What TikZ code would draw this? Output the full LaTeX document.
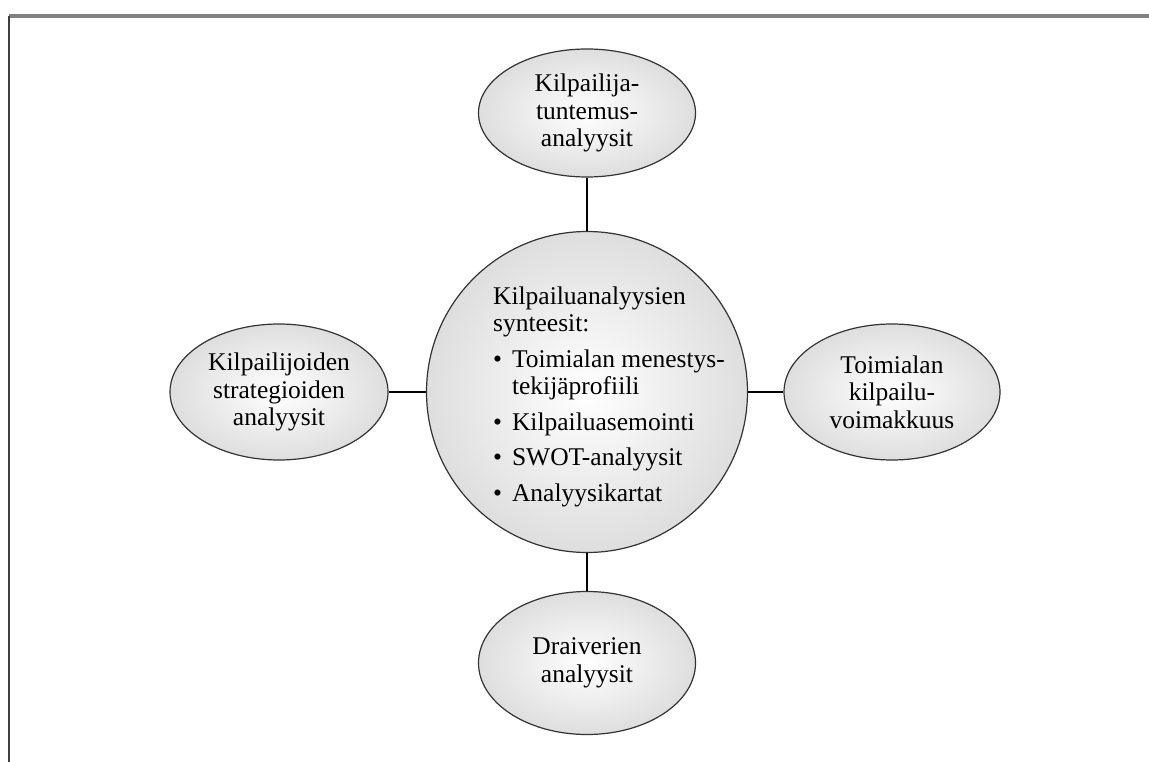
\documentclass[tikz,border=0pt]{standalone}
\usepackage{fontspec}
\setmainfont{Liberation Serif}
\usetikzlibrary{shapes.geometric}
\begin{document}
\begin{tikzpicture}[x=1pt,y=-1pt,
  bub/.style={ellipse, draw=black!80, line width=1.2pt, inner color=white, outer color=black!13,
    align=center, font=\fontsize{25.5}{27.5}\selectfont, inner sep=0pt},
  conn/.style={draw=black, line width=2pt},
  frametop/.style={draw=black!50, line width=4pt},
  frameleft/.style={draw=black!75, line width=2.5pt}]
\useasboundingbox (0,0) rectangle (1149,762);
\fill[white] (0,0) rectangle (1149,762);
% frame
\coordinate (ftl) at (9,16);
\coordinate (ftr) at (1149,16);
\coordinate (fbl) at (9,762);
\draw[frametop] (ftl) -- (ftr);
\draw[frameleft] (ftl) -- (fbl);
% nodes
\node[bub, circle, minimum size=321pt] (c) at (587,392) {};
\node[bub, minimum width=217pt, minimum height=128pt] (top) at (587,113) {Kilpailija-\\tuntemus-\\analyysit};
\node[bub, minimum width=218pt, minimum height=136pt] (left) at (279,392) {Kilpailijoiden\\strategioiden\\analyysit};
\node[bub, minimum width=216pt, minimum height=136pt] (right) at (892,392) {Toimialan\\kilpailu-\\voimakkuus};
\node[bub, minimum width=217pt, minimum height=143pt] (bottom) at (587,663) {Draiverien\\analyysit};
\node[font=\fontsize{25.5}{27.5}\selectfont, inner sep=0pt] (ctext) at (609,397) {%
  \begin{tabular}{@{}l@{\hspace{10pt}}l@{}}
  \multicolumn{2}{@{}l@{}}{Kilpailuanalyysien}\\
  \multicolumn{2}{@{}l@{}}{synteesit:}\\[8pt]
  \textbullet & Toimialan menestys-\\
   & tekijäprofiili\\[8pt]
  \textbullet & Kilpailuasemointi\\[8pt]
  \textbullet & SWOT-analyysit\\[8pt]
  \textbullet & Analyysikartat
  \end{tabular}};
% connectors
\draw[conn] (top) -- (c);
\draw[conn] (left) -- (c);
\draw[conn] (c) -- (right);
\draw[conn] (c) -- (bottom);
\end{tikzpicture}
\end{document}
